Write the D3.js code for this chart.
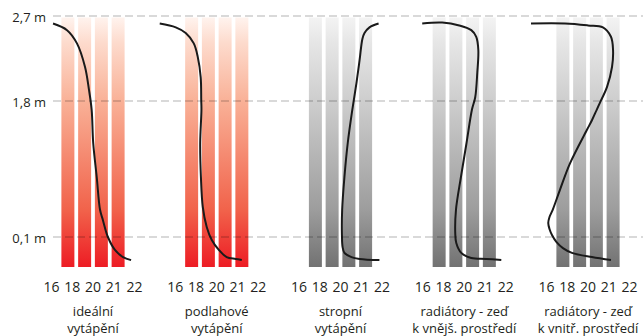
<!DOCTYPE html>
<html>
<head>
<meta charset="utf-8">
<script src="https://cdn.jsdelivr.net/npm/d3@7"></script>
<style>
body { margin: 0; background: #fff; }
svg text { font-family: "Open Sans", sans-serif; fill: #231f20; }
</style>
</head>
<body>
<script>
// data
var heightLevels = [2.7, 1.8, 0.1];
var heightLabels = ["2,7 m", "1,8 m", "0,1 m"];
var tempTicks = [16, 18, 20, 21, 22];
var captions = [
    ["ideální", "vytápění"],
    ["podlahové", "vytápění"],
    ["stropní", "vytápění"],
    ["radiátory - zeď", "k vnějš. prostředí"],
    ["radiátory - zeď", "k vnitř. prostředí"]
];
var palettes = ["red", "red", "gray", "gray", "gray"];
var stripes = [0, 1, 2, 3];

// [temperature, height in m]
var idealCurve = [[16.14, 2.62], [17.49, 2.55], [18.45, 2.41], [19.23, 2.16], [19.61, 1.92], [19.87, 1.69],
    [20.01, 1.275], [20.18, 0.85], [20.34, 0.44], [20.48, 0.31], [20.72, 0.1], [21.06, 0.057],
    [21.45, 0.033], [21.84, 0.023]];
var floorCurve = [[14.49, 2.62], [16.04, 2.58], [17.0, 2.52], [17.78, 2.41], [18.16, 2.27], [18.45, 2.05],
    [18.5, 1.81], [18.52, 1.69], [18.4, 1.275], [18.47, 0.85], [18.65, 0.475], [19.03, 0.225],
    [19.52, 0.09], [20.1, 0.057], [20.48, 0.033], [20.92, 0.027], [21.21, 0.023]];
var ceilingCurve = [[21.84, 2.62], [21.4, 2.58], [21.16, 2.52], [21.06, 2.46], [20.92, 2.23], [20.77, 1.99],
    [20.57, 1.69], [20.35, 1.275], [20.19, 0.85], [20.08, 0.44], [20.07, 0.125], [20.1, 0.067],
    [20.19, 0.047], [20.53, 0.033], [20.92, 0.027], [21.88, 0.023]];
var outerWallCurve = [[15.94, 2.62], [17.87, 2.63], [19.52, 2.6], [20.34, 2.55], [20.58, 2.48], [20.68, 2.34],
    [20.63, 2.1], [20.53, 1.84], [20.37, 1.69], [20.11, 1.275], [19.68, 0.85], [19.2, 0.44],
    [19.13, 0.15], [19.23, 0.08], [19.71, 0.047], [20.34, 0.03], [21.06, 0.027], [21.79, 0.023]];
var innerWallCurve = [[14.49, 2.62], [17.78, 2.62], [20.0, 2.6], [20.72, 2.58], [21.11, 2.48], [21.21, 2.34],
    [21.16, 2.16], [20.92, 1.95], [20.58, 1.78], [20.42, 1.69], [20.19, 1.56], [19.9, 1.44], [18.26, 1.02],
    [17.29, 0.69], [16.59, 0.44], [16.28, 0.35], [16.16, 0.275], [16.28, 0.2], [16.52, 0.125],
    [16.96, 0.083], [17.58, 0.063], [18.45, 0.047], [20.19, 0.033], [21.11, 0.023]];
var curves = [idealCurve, floorCurve, ceilingCurve, outerWallCurve, innerWallCurve];

var w = 643,
    h = 336,
    firstCenter = 93,
    panelStep = 123.75,
    labelStep = 20.7;

var svg = d3.select("body").append("svg")
    .attr("width", w)
    .attr("height", h);

var defs = svg.append("defs");
var gradients = {
    red: [[0, "#fff3ee"], [0.1, "#fddbcd"], [0.34, "#f9b096"], [0.77, "#f1634b"], [1, "#ed1c24"]],
    gray: [[0, "#f3f3f3"], [0.1, "#e6e6e6"], [0.34, "#cdcdcd"], [0.77, "#9d9d9d"], [1, "#727272"]]
};
Object.keys(gradients).forEach(function(k) {
    defs.append("linearGradient")
        .attr("id", "grad-" + k)
        .attr("x1", 0).attr("y1", 0).attr("x2", 0).attr("y2", 1)
        .selectAll("stop")
        .data(gradients[k])
        .enter()
        .append("stop")
        .attr("offset", function(d) { return d[0]; })
        .attr("stop-color", function(d) { return d[1]; });
});

var yScale = d3.scaleLinear()
    .domain([0, 0.1, 1.8, 2.7])
    .range([267, 237, 101, 16]);

var line = d3.line().curve(d3.curveCatmullRom.alpha(0.5));

function tempScale(i) {
    var c = firstCenter + i * panelStep;
    return d3.scaleLinear()
        .domain(tempTicks)
        .range([-2, -1, 0, 1, 2].map(function(k) { return c + k * labelStep; }));
}

var panels = svg.selectAll(".panel")
    .data(curves)
    .enter()
    .append("g")
    .attr("class", "panel");

panels.each(function(curve, i) {
    var g = d3.select(this);
    var c = firstCenter + i * panelStep;
    var xScale = tempScale(i);
    var band = d3.scaleBand()
        .domain(stripes)
        .range([c - 31.6, c + 31.6])
        .paddingInner(0.224);

    g.selectAll(".stripe")
        .data(stripes)
        .enter()
        .append("rect")
        .attr("class", "stripe")
        .attr("x", function(d) { return band(d); })
        .attr("width", band.bandwidth())
        .attr("y", yScale(2.7) + 1.5)
        .attr("height", yScale(0) - yScale(2.7) - 1.5)
        .attr("fill", "url(#grad-" + palettes[i] + ")");

    g.append("g")
        .attr("class", "ticks")
        .selectAll("text")
        .data(tempTicks)
        .enter()
        .append("text")
        .attr("x", function(d) { return xScale(d); })
        .attr("y", 292)
        .attr("text-anchor", "middle")
        .style("font-size", "14px")
        .text(function(d) { return d; });

    g.selectAll(".caption")
        .data(captions[i])
        .enter()
        .append("text")
        .attr("class", "caption")
        .attr("x", c)
        .attr("y", function(d, j) { return 315.5 + j * 17.5; })
        .attr("text-anchor", "middle")
        .style("font-size", "13px")
        .text(function(d) { return d; });
});

// dashed level lines
svg.selectAll(".level")
    .data(heightLevels)
    .enter()
    .append("line")
    .attr("class", "level")
    .attr("x1", 53)
    .attr("x2", w)
    .attr("y1", function(d) { return yScale(d); })
    .attr("y2", function(d) { return yScale(d); })
    .attr("stroke", "#000")
    .attr("stroke-opacity", 0.3)
    .attr("stroke-width", 1.2)
    .attr("stroke-dasharray", "8,4");

svg.selectAll(".level-label")
    .data(heightLevels)
    .enter()
    .append("text")
    .attr("class", "level-label")
    .attr("x", 46)
    .attr("y", function(d) { return yScale(d) + 5.5; })
    .attr("text-anchor", "end")
    .style("font-size", "13px")
    .text(function(d, i) { return heightLabels[i]; });

// temperature curves on top
panels.append("path")
    .attr("class", "curve")
    .attr("fill", "none")
    .attr("stroke", "#1a1a1a")
    .attr("stroke-width", 2)
    .attr("d", function(curve, i) {
        var xScale = tempScale(i);
        return line(curve.map(function(d) { return [xScale(d[0]), yScale(d[1])]; }));
    });
</script>
</body>
</html>
